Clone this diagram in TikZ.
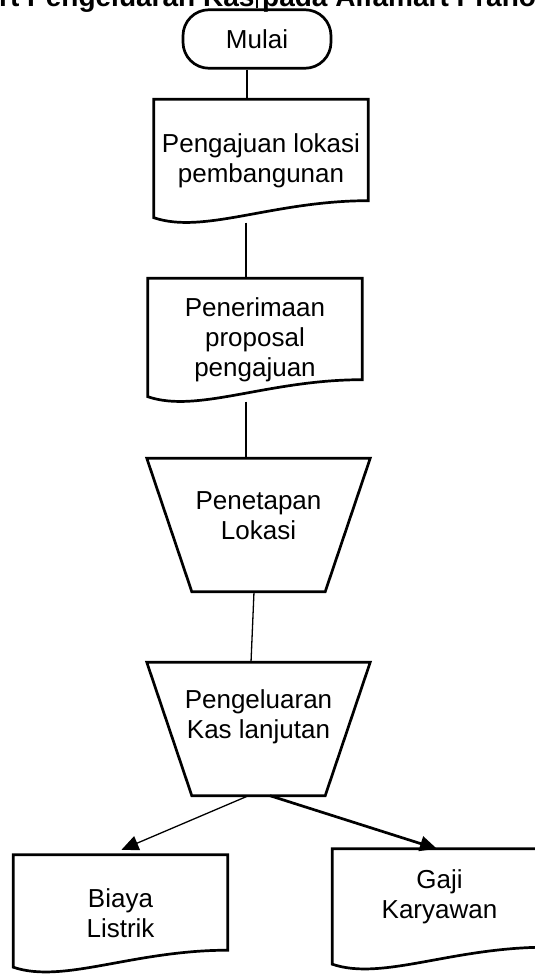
\documentclass[tikz,border=0pt]{standalone}
\usepackage{fontspec}
\setmainfont{Liberation Sans}
\usetikzlibrary{arrows.meta}

% outline of a document symbol round a plain node
\newcommand{\docshape}[1]{%
  \draw[line] (#1.north west) -- (#1.north east) -- ([yshift=22pt]#1.south east)
    .. controls ([xshift=-95pt,yshift=22pt]#1.south east) and ([xshift=50pt,yshift=-12pt]#1.south west)
    .. ([yshift=5pt]#1.south west) -- cycle;}
% outline of a manual operation round a plain node
\newcommand{\manualshape}[1]{%
  \draw[line] (#1.north west) -- (#1.north east) -- ([xshift=-45pt]#1.south east)
    -- ([xshift=45pt]#1.south west) -- cycle;}

\begin{document}
\begin{tikzpicture}[x=1pt,y=1pt,>={Triangle[length=17pt,width=15pt]},
  font=\fontsize{26}{30}\selectfont,
  line/.style={line width=2.7pt},
  thin line/.style={line width=1.3pt},
  start node/.style={draw,line width=2.7pt,rounded corners=26pt,minimum width=148pt,minimum height=58.5pt},
  doc node/.style={inner sep=0pt,align=center,minimum width=214pt,minimum height=123pt},
  manual node/.style={inner sep=0pt,align=center,minimum width=223pt,minimum height=133pt}]

  \useasboundingbox (0,0) rectangle (535,-974);

  \node[anchor=base west,inner sep=0pt,font=\bfseries\fontsize{28}{32}\selectfont] (title) at (-113,-7)
    {Flowchart Pengeluaran Kas pada Alfamart Pranoto};
  \coordinate (entry) at (257,0);

  \node[start node] (mulai) at (257,-39) {Mulai};

  \node[doc node] (d1) [below of=mulai, node distance=122pt, xshift=4pt] {Pengajuan lokasi\\pembangunan};
  \node[doc node] (d2) [below of=d1, node distance=179pt, xshift=-6pt] {Penerimaan\\proposal\\pengajuan};

  \node[manual node] (t1) [below of=d2, node distance=185pt, xshift=3.5pt] {Penetapan\\Lokasi\\[-12pt]\mbox{}};
  \node[manual node] (t2) [below of=t1, node distance=204pt] {Pengeluaran\\Kas lanjutan\\\mbox{}};

  \node[doc node, minimum height=117pt] (b) [below of=t2, node distance=184.5pt, xshift=-138pt] {Biaya\\Listrik};
  \node[doc node, minimum height=120pt] (g) [below of=t2, node distance=180pt, xshift=181pt] {Gaji\\Karyawan\\\mbox{}};

  \docshape{d1}
  \docshape{d2}
  \manualshape{t1}
  \manualshape{t2}
  \docshape{b}
  \docshape{g}

\draw [line] (mulai) -- (entry);
\draw [line] ([xshift=-10pt]mulai.south) -- ([xshift=-10pt]mulai.south |- d1.north);
\draw [line] ([xshift=-15pt]d1.south) -- ([xshift=-15pt]d1.south |- d2.north);
\draw [line] ([xshift=-9pt]d2.south) -- ([xshift=-9pt]d2.south |- t1.north);
\draw [thin line] ([xshift=-4.5pt]t1.south) -- ([xshift=-7.5pt]t2.north);
\draw [thin line,->] ([xshift=-10pt]t2.south) -- ([xshift=1pt,yshift=5pt]b.north);
\draw [line,->] ([xshift=11.5pt]t2.south) -- ([xshift=-2.5pt]g.north);

\end{tikzpicture}
\end{document}
